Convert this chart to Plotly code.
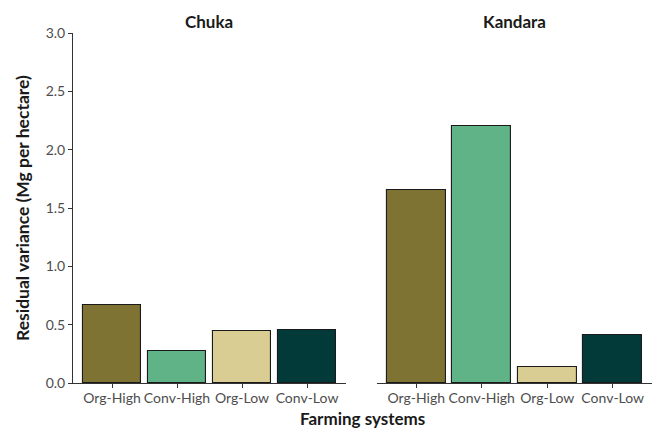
import plotly.graph_objects as go
from plotly.subplots import make_subplots

# Residual variance by farming system at the two sites
systems = ["Org-High", "Conv-High", "Org-Low", "Conv-Low"]
chuka = [0.67, 0.277, 0.448, 0.457]
kandara = [1.652, 2.203, 0.14, 0.411]
colors = ["#7f7333", "#5fb386", "#d9cd94", "#023a3a"]
sites = ["Chuka", "Kandara"]
y_ticks = [0.0, 0.5, 1.0, 1.5, 2.0, 2.5, 3.0]

FONT = "Lato"
TICK_COLOR = "#4d4d4d"

fig = make_subplots(rows=1, cols=2, shared_yaxes=False, horizontal_spacing=0.0)

for col, vals in enumerate([chuka, kandara], start=1):
    fig.add_trace(
        go.Bar(
            x=list(range(len(systems))),
            y=vals,
            width=0.9,
            marker=dict(color=colors, line=dict(color="#1a1a1a", width=1.1)),
            showlegend=False,
            hoverinfo="x+y",
        ),
        row=1, col=col,
    )

axis_common = dict(
    tickmode="array",
    tickvals=list(range(len(systems))),
    ticktext=systems,
    range=[-0.6, 3.6],
    showgrid=False,
    zeroline=False,
    showline=True,
    linecolor="#333333",
    linewidth=1,
    ticks="outside",
    ticklen=4,
    tickcolor="#333333",
    ticklabelstandoff=-2,
    tickfont=dict(family=FONT, size=14, color=TICK_COLOR),
)
fig.update_xaxes(domain=[0.0, 0.4715], **axis_common, row=1, col=1)
fig.update_xaxes(domain=[0.525, 1.0], **axis_common, row=1, col=2)

fig.update_yaxes(
    range=[0, 3.0],
    tickvals=y_ticks,
    tickformat=".1f",
    showgrid=False,
    zeroline=False,
    showline=True,
    linecolor="#333333",
    linewidth=1,
    ticks="outside",
    ticklen=4,
    tickcolor="#333333",
    tickfont=dict(family=FONT, size=14, color=TICK_COLOR),
    row=1, col=1,
)
fig.update_yaxes(
    range=[0, 3.0],
    showgrid=False,
    zeroline=False,
    showline=False,
    showticklabels=False,
    ticks="",
    row=1, col=2,
)

TITLE_FONT = dict(family=FONT, size=17, color="#1a1a1a")
annotations = [
    dict(text="<b>Chuka</b>", xref="x domain", yref="paper", x=0.5, y=1.0,
         yshift=12, xanchor="center", yanchor="middle", showarrow=False,
         font=TITLE_FONT),
    dict(text="<b>Kandara</b>", xref="x2 domain", yref="paper", x=0.5, y=1.0,
         yshift=12, xanchor="center", yanchor="middle", showarrow=False,
         font=TITLE_FONT),
    dict(text="<b>Residual variance (Mg per hectare)</b>", xref="paper", yref="paper",
         x=0, y=0.5, xshift=-51, textangle=-90, xanchor="center", yanchor="middle",
         showarrow=False, font=dict(family=FONT, size=17.5, color="#1a1a1a")),
    dict(text="<b>Farming systems</b>", xref="paper", yref="paper",
         x=0.5, y=0, yshift=-35, xanchor="center", yanchor="middle",
         showarrow=False, font=TITLE_FONT),
]

fig.update_layout(
    width=662,
    height=429,
    margin=dict(l=73, r=10, t=33, b=46),
    paper_bgcolor="white",
    plot_bgcolor="white",
    bargap=0,
    annotations=annotations,
    font=dict(family=FONT),
)

fig.write_html("out.html")
